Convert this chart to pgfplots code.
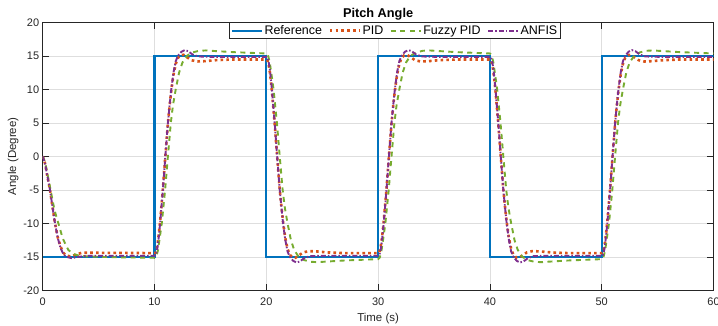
\documentclass[border=0pt]{standalone}
\usepackage{fontspec}
\setmainfont{Liberation Sans}
\usepackage{pgfplots}
\pgfplotsset{compat=1.18}
\definecolor{mblue}{rgb}{0,0.447,0.741}
\definecolor{morange}{rgb}{0.85,0.325,0.098}
\definecolor{mgreen}{rgb}{0.466,0.674,0.188}
\definecolor{mpurple}{rgb}{0.494,0.184,0.556}
\definecolor{axgray}{rgb}{0.15,0.15,0.15}
\definecolor{gridgray}{rgb}{0.87,0.87,0.87}
\begin{document}
\begin{tikzpicture}
\begin{axis}[
  at={(0,0)}, anchor=south west,
  scale only axis, width=670.8bp, height=268bp,
  xmin=0, xmax=60, ymin=-20, ymax=20,
  xtick={0,10,...,60}, ytick={-20,-15,...,20},
  grid=major, major grid style={gridgray, line width=0.5bp},
  axis line style={axgray, line width=0.6bp},
  tick style={axgray, line width=0.6bp},
  major tick length=6.7bp,
  tick align=inside, tick pos=both,
  /pgf/number format/assume math mode=true,
  ticklabel style={font=\fontsize{11}{13}\selectfont, text=axgray},
  xticklabel style={yshift=-4.5bp},
  label style={font=\fontsize{11.5}{13}\selectfont, text=axgray},
  ylabel style={yshift=-2bp},
  title style={font=\bfseries\fontsize{12.8}{14}\selectfont, yshift=-7.3bp},
  title={Pitch Angle},
  xlabel={Time (s)}, ylabel={Angle (Degree)},
  legend columns=4,
  legend style={at={(0.525,1)}, anchor=north, draw=axgray, fill=white,
    line width=0.6bp,
    font=\fontsize{12.5}{14}\selectfont,
    inner xsep=2bp, inner ysep=1.2bp,
    nodes={inner sep=1.5bp},
    /tikz/every even column/.append style={column sep=5bp}},
  legend image code/.code={\draw[#1] (0bp,0bp) -- (30bp,0bp);},
]
\addplot[mblue, line width=2.1bp] coordinates {
(0,-15) (10,-15) (10,15) (20,15) (20,-15) (30,-15) (30,15) (40,15) (40,-15) (50,-15) (50,15) (60,15)};
\addlegendentry{Reference}

\addplot[morange, line width=2.6bp, dash pattern=on 2.6bp off 3.2bp] coordinates {
(0,0) (0.2,-1.0) (0.4,-2.8) (0.65,-5) (0.9,-7.8) (1.1,-10) (1.35,-12.1) (1.6,-13.5) (1.85,-14.4) (2.1,-14.8) (2.5,-14.95) (3,-14.65) (3.5,-14.4) (5,-14.4) (10,-14.45)
(10.1,-14.35) (10.2,-13.8) (10.3,-12.8) (10.4,-11.4) (10.5,-9.8) (10.75,-4.9) (10.97,0) (11.2,4.9) (11.35,7.5) (11.5,9.8) (11.7,12.2) (11.9,13.8) (12.1,14.7) (12.35,15.1) (12.6,15.15) (12.9,14.8) (13.3,14.35) (13.8,14.15) (14.5,14.2) (15.5,14.35) (17,14.45) (20,14.45)
(20.1,14.35) (20.2,13.8) (20.3,12.8) (20.4,11.4) (20.5,9.8) (20.75,4.9) (20.97,0) (21.2,-4.9) (21.35,-7.5) (21.5,-9.8) (21.7,-12.2) (21.9,-13.8) (22.1,-14.7) (22.35,-15.1) (22.6,-15.15) (22.9,-14.8) (23.3,-14.35) (23.8,-14.15) (24.5,-14.2) (25.5,-14.35) (27,-14.45) (30,-14.45)
(30.1,-14.35) (30.2,-13.8) (30.3,-12.8) (30.4,-11.4) (30.5,-9.8) (30.75,-4.9) (30.97,0) (31.2,4.9) (31.35,7.5) (31.5,9.8) (31.7,12.2) (31.9,13.8) (32.1,14.7) (32.35,15.1) (32.6,15.15) (32.9,14.8) (33.3,14.35) (33.8,14.15) (34.5,14.2) (35.5,14.35) (37,14.45) (40,14.45)
(40.1,14.35) (40.2,13.8) (40.3,12.8) (40.4,11.4) (40.5,9.8) (40.75,4.9) (40.97,0) (41.2,-4.9) (41.35,-7.5) (41.5,-9.8) (41.7,-12.2) (41.9,-13.8) (42.1,-14.7) (42.35,-15.1) (42.6,-15.15) (42.9,-14.8) (43.3,-14.35) (43.8,-14.15) (44.5,-14.2) (45.5,-14.35) (47,-14.45) (50,-14.45)
(50.1,-14.35) (50.2,-13.8) (50.3,-12.8) (50.4,-11.4) (50.5,-9.8) (50.75,-4.9) (50.97,0) (51.2,4.9) (51.35,7.5) (51.5,9.8) (51.7,12.2) (51.9,13.8) (52.1,14.7) (52.35,15.1) (52.6,15.15) (52.9,14.8) (53.3,14.35) (53.8,14.15) (54.5,14.2) (55.5,14.35) (57,14.45) (60,14.45)
};
\addlegendentry{PID}

\addplot[mgreen, line width=1.9bp, dash pattern=on 5bp off 4.5bp] coordinates {
(0,0) (0.2,-0.8) (0.4,-2.4) (0.7,-5) (1.05,-8) (1.4,-10) (1.8,-12.3) (2.3,-14) (2.8,-14.6) (3.3,-14.85) (4,-14.95) (6,-15.05) (8,-15.1) (10,-15.15)
(10.15,-15.0) (10.3,-14.1) (10.45,-12.4) (10.65,-10) (10.95,-5) (11.2,0) (11.46,5) (11.65,7.6) (11.9,10) (12.2,12.5) (12.5,14) (12.9,15) (13.4,15.5) (14,15.75) (14.6,15.8) (15.5,15.7) (17,15.55) (18.5,15.45) (20,15.35)
(20.15,15.1) (20.3,14.1) (20.45,12.4) (20.65,10) (20.95,5) (21.2,0) (21.46,-5) (21.65,-7.6) (21.9,-10) (22.2,-12.5) (22.5,-14) (22.9,-15) (23.4,-15.5) (24,-15.75) (24.6,-15.8) (25.5,-15.7) (27,-15.55) (28.5,-15.45) (30,-15.35)
(30.15,-15.1) (30.3,-14.1) (30.45,-12.4) (30.65,-10) (30.95,-5) (31.2,0) (31.46,5) (31.65,7.6) (31.9,10) (32.2,12.5) (32.5,14) (32.9,15) (33.4,15.5) (34,15.75) (34.6,15.8) (35.5,15.7) (37,15.55) (38.5,15.45) (40,15.35)
(40.15,15.1) (40.3,14.1) (40.45,12.4) (40.65,10) (40.95,5) (41.2,0) (41.46,-5) (41.65,-7.6) (41.9,-10) (42.2,-12.5) (42.5,-14) (42.9,-15) (43.4,-15.5) (44,-15.75) (44.6,-15.8) (45.5,-15.7) (47,-15.55) (48.5,-15.45) (50,-15.35)
(50.15,-15.1) (50.3,-14.1) (50.45,-12.4) (50.65,-10) (50.95,-5) (51.2,0) (51.46,5) (51.65,7.6) (51.9,10) (52.2,12.5) (52.5,14) (52.9,15) (53.4,15.5) (54,15.75) (54.6,15.8) (55.5,15.7) (57,15.55) (58.5,15.45) (60,15.35)
};
\addlegendentry{Fuzzy PID}

\addplot[mpurple, line width=1.9bp, dash pattern=on 5bp off 2bp on 1.5bp off 2bp] coordinates {
(0,0) (0.2,-1.0) (0.4,-2.8) (0.65,-5) (0.9,-7.8) (1.1,-10) (1.35,-12.2) (1.6,-13.7) (1.85,-14.6) (2.1,-15) (2.6,-15.2) (3.2,-15.0) (4,-14.85) (10,-14.85)
(10.1,-14.75) (10.2,-14.2) (10.3,-13.2) (10.4,-11.7) (10.5,-10) (10.75,-5) (10.97,0) (11.2,5) (11.35,7.6) (11.5,10) (11.7,12.5) (11.9,14.2) (12.1,15) (12.4,15.6) (12.7,15.85) (13,15.7) (13.4,15.2) (13.9,14.9) (15,14.85) (20,14.85)
(20.1,14.75) (20.2,14.2) (20.3,13.2) (20.4,11.7) (20.5,10) (20.75,5) (20.97,0) (21.2,-5) (21.35,-7.6) (21.5,-10) (21.7,-12.5) (21.9,-14.2) (22.1,-15) (22.4,-15.6) (22.7,-15.85) (23,-15.7) (23.4,-15.2) (23.9,-14.9) (25,-14.85) (30,-14.85)
(30.1,-14.75) (30.2,-14.2) (30.3,-13.2) (30.4,-11.7) (30.5,-10) (30.75,-5) (30.97,0) (31.2,5) (31.35,7.6) (31.5,10) (31.7,12.5) (31.9,14.2) (32.1,15) (32.4,15.6) (32.7,15.85) (33,15.7) (33.4,15.2) (33.9,14.9) (35,14.85) (40,14.85)
(40.1,14.75) (40.2,14.2) (40.3,13.2) (40.4,11.7) (40.5,10) (40.75,5) (40.97,0) (41.2,-5) (41.35,-7.6) (41.5,-10) (41.7,-12.5) (41.9,-14.2) (42.1,-15) (42.4,-15.6) (42.7,-15.85) (43,-15.7) (43.4,-15.2) (43.9,-14.9) (45,-14.85) (50,-14.85)
(50.1,-14.75) (50.2,-14.2) (50.3,-13.2) (50.4,-11.7) (50.5,-10) (50.75,-5) (50.97,0) (51.2,5) (51.35,7.6) (51.5,10) (51.7,12.5) (51.9,14.2) (52.1,15) (52.4,15.6) (52.7,15.85) (53,15.7) (53.4,15.2) (53.9,14.9) (55,14.85) (60,14.85)
};
\addlegendentry{ANFIS}
\end{axis}
\pgfresetboundingbox
\path (-42.7bp,-35.7bp) rectangle (675.3bp,290.3bp);
\end{tikzpicture}
\end{document}
